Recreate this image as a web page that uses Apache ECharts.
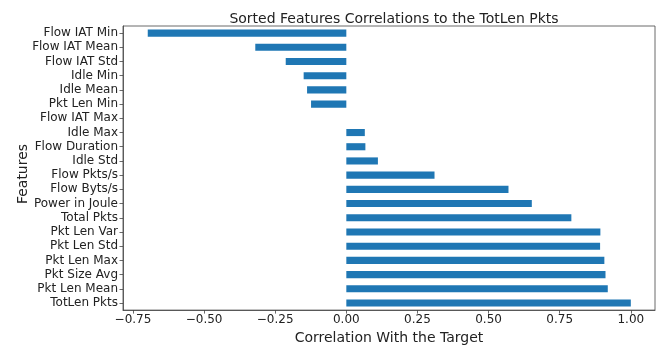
<!DOCTYPE html>
<html>
<head>
<meta charset="utf-8">
<script src="https://cdn.jsdelivr.net/npm/echarts@6/dist/echarts.min.js"></script>
<style>
  html, body { margin: 0; padding: 0; background: #fff; }
  #chart { width: 663px; height: 350px; }
</style>
</head>
<body>
<div id="chart"></div>
<script>
// Features, listed top to bottom
const features = [
  'Flow IAT Min', 'Flow IAT Mean', 'Flow IAT Std', 'Idle Min', 'Idle Mean',
  'Pkt Len Min', 'Flow IAT Max', 'Idle Max', 'Flow Duration', 'Idle Std',
  'Flow Pkts/s', 'Flow Byts/s', 'Power in Joule', 'Total Pkts', 'Pkt Len Var',
  'Pkt Len Std', 'Pkt Len Max', 'Pkt Size Avg', 'Pkt Len Mean', 'TotLen Pkts'
];
// Correlation of each feature with TotLen Pkts (Flow IAT Max is undefined)
const correlations = [
  -0.698, -0.320, -0.213, -0.150, -0.138,
  -0.124, null, 0.065, 0.067, 0.111,
  0.310, 0.570, 0.652, 0.791, 0.893,
  0.892, 0.907, 0.911, 0.919, 1.000
];
// X axis tick positions
const xTicks = [-0.75, -0.5, -0.25, 0, 0.25, 0.5, 0.75, 1.0];

const FONT = 'DejaVu Sans';
const chart = echarts.init(document.getElementById('chart'), null, { renderer: 'canvas' });

const fmt = v => {
  const s = Math.abs(v).toFixed(2);
  return v < 0 ? '\u2212' + s : s;
};

chart.setOption({
  animation: false,
  backgroundColor: '#fff',
  title: {
    text: 'Sorted Features Correlations to the TotLen Pkts',
    left: 389,
    top: 7,
    textAlign: 'center',
    textStyle: { fontFamily: FONT, fontSize: 14, fontWeight: 'normal', color: '#222' }
  },
  // y axis title, placed beside the category labels
  graphic: [{
    type: 'text',
    x: 23,
    y: 174,
    rotation: Math.PI / 2,
    style: {
      text: 'Features',
      fontFamily: FONT, fontSize: 14, fill: '#222',
      textAlign: 'center', textVerticalAlign: 'middle'
    }
  }],
  grid: {
    left: 123, right: 8, top: 26, bottom: 28,
    show: true, borderColor: '#444', borderWidth: 0.8, backgroundColor: 'transparent'
  },
  xAxis: {
    type: 'value',
    min: -0.785,
    max: 1.085,
    name: 'Correlation With the Target',
    nameLocation: 'middle',
    nameGap: 16,
    nameTextStyle: { fontFamily: FONT, fontSize: 14, color: '#222' },
    axisLine: { show: true, onZero: false, lineStyle: { color: '#444', width: 0.8 } },
    axisTick: { show: true, length: 3.5, lineStyle: { color: '#444', width: 0.8 }, customValues: xTicks },
    axisLabel: {
      customValues: xTicks,
      formatter: fmt,
      margin: 4,
      fontFamily: FONT, fontSize: 12, color: '#222'
    },
    splitLine: { show: false }
  },
  yAxis: {
    type: 'category',
    data: features,
    inverse: true,
    axisLine: { show: true, onZero: false, lineStyle: { color: '#444', width: 0.8 } },
    axisTick: { show: true, alignWithLabel: true, length: 3.5, lineStyle: { color: '#444', width: 0.8 } },
    axisLabel: { margin: 5, fontFamily: FONT, fontSize: 12, color: '#222', interval: 0 },
    splitLine: { show: false }
  },
  series: [{
    type: 'bar',
    data: correlations,
    barWidth: '50%',
    itemStyle: { color: '#1f77b4' }
  }]
});
</script>
</body>
</html>
